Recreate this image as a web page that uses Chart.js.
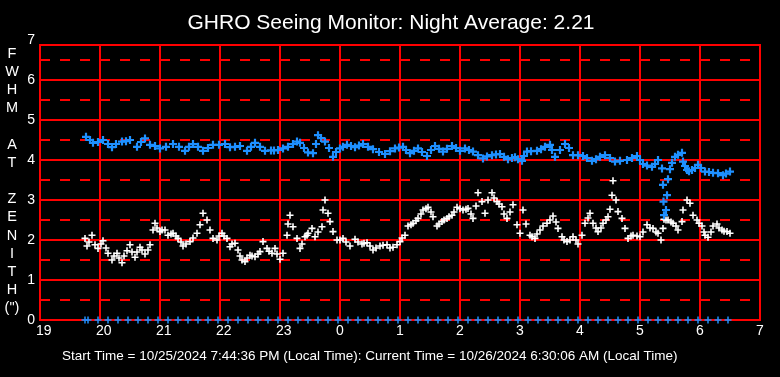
<!DOCTYPE html>
<html><head><meta charset="utf-8">
<script src="https://cdn.jsdelivr.net/npm/chart.js@4.4.1/dist/chart.umd.min.js"></script>
<style>html,body{margin:0;padding:0;background:#000;overflow:hidden}canvas{display:block}</style>
</head><body>
<canvas id="c" width="780" height="377"></canvas>
<script>
const titleText = 'GHRO Seeing Monitor: Night Average: 2.21';
const footerText = 'Start Time = 10/25/2024 7:44:36 PM (Local Time): Current Time = 10/26/2024 6:30:06 AM (Local Time)';
const sideLetters = ['F','W','H','M','','A','T','','Z','E','N','I','T','H','(")'];
const xTickLabels = ['19','20','21','22','23','0','1','2','3','4','5','6','7'];
const yTickLabels = ['0','1','2','3','4','5','6','7'];
const frameTopValue = 6.875;

// [minutes after 19:00, FWHM arcsec]
const fwhmPoints = [[46,4.58],[50,4.5],[53,4.43],[58,4.45],[63,4.5],[68,4.4],[72,4.32],[76,4.4],[82,4.46],[86,4.47],
[90,4.5],[97,4.33],[101,4.45],[105,4.54],[110,4.38],[115,4.35],[120,4.29],[126,4.33],[133,4.4],[139,4.33],
[145,4.23],[149,4.33],[153,4.4],[158,4.33],[163,4.23],[168,4.3],[173,4.38],[179,4.38],[185,4.4],[190,4.32],
[195,4.33],[200,4.35],[207,4.23],[211,4.33],[215,4.43],[220,4.33],[225,4.23],[231,4.24],[234,4.24],[238,4.25],
[243,4.29],[248,4.33],[253,4.4],[257,4.46],[260,4.43],[264,4.3],[268,4.19],[273,4.17],[276,4.4],[278,4.62],
[281,4.55],[285,4.46],[289,4.3],[293,4.08],[296,4.2],[300,4.29],[303,4.33],[307,4.38],[311,4.35],[315,4.32],
[319,4.36],[323,4.4],[328,4.33],[333,4.27],[339,4.2],[345,4.15],[350,4.22],[355,4.29],[359,4.31],[363,4.33],
[366,4.25],[370,4.17],[374,4.23],[378,4.29],[382,4.2],[387,4.1],[391,4.25],[395,4.35],[399,4.28],[403,4.21],
[407,4.28],[412,4.35],[416,4.3],[420,4.23],[425,4.29],[429,4.25],[433,4.21],[438,4.12],[443,4.04],[447,4.09],
[452,4.12],[456,4.14],[460,4.15],[464,4.08],[468,4.02],[472,4.05],[475,4.07],[478,4.02],[482,3.98],[484,4.1],
[487,4.21],[491,4.22],[497,4.23],[501,4.27],[505,4.33],[510,4.38],[512,4.25],[515,4.08],[520,4.25],[525,4.4],
[529,4.3],[533,4.12],[538,4.12],[543,4.1],[547,4.05],[552,3.98],[556,4.02],[560,4.08],[565,4.12],[570,4.05],
[575,3.96],[580,3.98],[587,4.0],[592,4.05],[597,4.1],[600,4.0],[603,3.9],[607,3.86],[612,3.83],[615,3.9],
[618,4.0],[622,3.79],[623,3.38],[623.5,2.96],[624,2.62],[626,2.75],[627,3.12],[628,3.52],[630,3.77],[632,3.93],
[635,4.08],[638,4.13],[642,4.18],[643,3.96],[645,3.85],[647,3.75],[649,3.72],[652,3.75],[655,3.8],[658,3.88],
[661,3.8],[665,3.71],[669,3.7],[673,3.68],[678,3.67],[683,3.62],[686,3.66],[690,3.71]];

// [minutes after 19:00, seeing arcsec]
const seeingPoints = [[45,2.04],[47,1.85],[49,1.95],[52,2.12],[55,1.88],[58,1.79],[61,1.9],[63,1.98],[66,1.8],[68,1.67],
[72,1.5],[74,1.6],[77,1.67],[79,1.55],[82,1.43],[84,1.6],[87,1.73],[90,1.88],[92,1.7],[95,1.57],
[97,1.7],[100,1.82],[102,1.75],[105,1.65],[108,1.75],[110,1.88],[113,2.25],[115,2.42],[117,2.3],[120,2.21],
[122,2.25],[125,2.25],[128,2.12],[131,2.15],[133,2.17],[136,2.1],[138,2.04],[141,1.95],[143,1.85],[146,1.9],
[150,1.96],[153,2.05],[157,2.17],[160,2.38],[163,2.67],[167,2.5],[170,2.25],[173,2.04],[177,2.0],[179,2.1],
[182,2.17],[184,2.1],[187,2.04],[190,1.83],[192,1.9],[195,1.92],[198,1.75],[200,1.6],[202,1.5],[205,1.46],
[207,1.55],[210,1.62],[212,1.6],[215,1.58],[218,1.65],[220,1.71],[223,1.96],[227,1.79],[229,1.72],[232,1.67],
[235,1.79],[237,1.65],[240,1.52],[243,1.67],[247,2.12],[248,2.4],[250,2.62],[253,2.33],[257,2.04],[260,1.79],
[262,1.9],[265,2.08],[267,2.12],[268,2.17],[272,2.29],[275,2.08],[278,2.2],[282,2.33],[283,2.75],[285,3.0],
[288,2.67],[290,2.46],[293,2.21],[297,2.0],[300,2.0],[303,2.04],[306,1.95],[310,1.85],[315,2.02],[318,1.95],
[322,1.9],[324,1.92],[327,1.93],[330,1.85],[333,1.75],[336,1.8],[340,1.85],[343,1.87],[347,1.88],[350,1.8],
[353,1.82],[357,1.88],[360,1.96],[362,2.05],[365,2.12],[368,2.35],[371,2.38],[373,2.42],[376,2.48],[378,2.54],
[381,2.65],[383,2.75],[386,2.78],[388,2.82],[391,2.7],[393,2.58],[397,2.35],[399,2.4],[402,2.46],[404,2.5],
[407,2.54],[409,2.58],[412,2.62],[414,2.7],[417,2.82],[420,2.78],[423,2.75],[426,2.77],[428,2.79],[431,2.65],
[433,2.54],[436,2.85],[438,3.18],[442,2.96],[445,2.67],[448,3.0],[452,3.18],[454,3.05],[457,2.96],[459,2.9],
[462,2.83],[464,2.65],[467,2.54],[470,2.7],[473,2.88],[477,2.38],[480,2.17],[483,2.75],[486,2.4],[490,2.12],
[492,2.08],[495,2.04],[497,2.15],[500,2.25],[503,2.35],[507,2.42],[510,2.5],[513,2.6],[516,2.45],[518,2.29],
[522,2.08],[524,2.0],[527,1.96],[530,2.0],[533,2.08],[536,2.0],[538,1.9],[542,2.12],[545,2.42],[548,2.55],
[550,2.67],[553,2.42],[556,2.3],[558,2.21],[561,2.3],[563,2.42],[566,2.5],[568,2.58],[570,2.77],[572,3.12],
[573,3.48],[576,3.0],[578,2.71],[582,2.54],[585,2.29],[588,2.04],[591,2.1],[593,2.12],[597,2.1],[600,2.08],
[603,2.2],[607,2.38],[610,2.3],[613,2.29],[616,2.2],[618,2.17],[621,2.0],[623,2.29],[624,2.52],[626,2.5],
[628,2.5],[631,2.45],[633,2.42],[636,2.35],[638,2.25],[642,2.46],[643,2.75],[647,3.0],[650,2.92],[653,2.62],
[657,2.5],[659,2.42],[662,2.35],[664,2.2],[665,2.12],[668,2.07],[671,2.2],[673,2.35],[677,2.4],[679,2.3],
[682,2.25],[684,2.22],[687,2.21],[690,2.17]];

// bottom markers [minutes after 19:00, value]
const zeroPoints = [[45,0],[48,0],[58,0],[68,0],[78,0],[88,0],[98,0],[108,0],[118,0],[128,0],
[138,0],[148,0],[158,0],[168,0],[178,0],[188,0],[198,0],[208,0],[218,0],[228,0],
[238,0],[248,0],[258,0],[268,0],[278,0],[288,0],[298,0],[308,0],[318,0],[328,0],
[338,0],[348,0],[358,0],[368,0],[378,0],[388,0],[398,0],[408,0],[418,0],[428,0],
[438,0],[448,0],[458,0],[468,0],[478,0],[488,0],[498,0],[508,0],[518,0],[528,0],
[538,0],[548,0],[558,0],[568,0],[578,0],[588,0],[598,0],[608,0],[618,0],[628,0],
[638,0],[648,0],[658,0],[668,0],[678,0],[688,0]];

const toXY = arr => arr.map(p => ({x: p[0], y: p[1]}));
const FONT = '"Liberation Sans", Arial, sans-serif';
const RED = '#ff0000';
const BLUE = '#1e90ff';

const framePlugin = {
  id: 'frame',
  beforeDraw(chart) {
    const {ctx, width, height} = chart;
    ctx.save(); ctx.fillStyle = '#000'; ctx.fillRect(0, 0, width, height); ctx.restore();
  },
  beforeDatasetsDraw(chart) {
    const {ctx, chartArea: a, scales: {x, y}} = chart;
    const top = Math.round(y.getPixelForValue(frameTopValue));
    ctx.save();
    ctx.strokeStyle = RED; ctx.lineWidth = 2;
    y.ticks.forEach(t => {
      if (t.value <= 0 || t.value >= frameTopValue) return;
      const py = Math.round(y.getPixelForValue(t.value));
      ctx.setLineDash(t.value % 1 ? [10, 10] : []);
      ctx.beginPath(); ctx.moveTo(a.left, py); ctx.lineTo(a.right, py); ctx.stroke();
    });
    ctx.setLineDash([]);
    x.ticks.forEach(t => {
      const px = Math.round(x.getPixelForValue(t.value));
      ctx.beginPath(); ctx.moveTo(px, top); ctx.lineTo(px, a.bottom); ctx.stroke();
    });
    ctx.strokeRect(a.left, top, a.right - a.left, a.bottom - top);
    ctx.restore();
  },
  afterDraw(chart) {
    const {ctx} = chart;
    ctx.save();
    ctx.fillStyle = '#fff';
    ctx.textBaseline = 'alphabetic';
    ctx.textAlign = 'center';
    ctx.font = '21px ' + FONT;
    ctx.fillText(titleText, 391, 29);
    ctx.font = '14.5px ' + FONT;
    sideLetters.forEach((s, i) => { if (s) ctx.fillText(s, 12, 57.5 + i * 18.2); });
    ctx.textAlign = 'left';
    ctx.font = '13.5px ' + FONT;
    ctx.fillText(footerText, 62, 360);
    ctx.restore();
  }
};

new Chart(document.getElementById('c'), {
  type: 'scatter',
  data: {
    datasets: [
      {label: 'FWHM', data: toXY(fwhmPoints), pointStyle: 'cross', radius: 4, borderColor: BLUE, backgroundColor: BLUE, borderWidth: 2.2, clip: false},
      {label: 'Seeing', data: toXY(seeingPoints), pointStyle: 'cross', radius: 3.5, borderColor: '#fff', backgroundColor: '#fff', borderWidth: 1.6, clip: false},
      {label: 'Zero', data: toXY(zeroPoints), pointStyle: 'cross', radius: 3.5, borderColor: BLUE, backgroundColor: BLUE, borderWidth: 1.5, clip: false}
    ]
  },
  options: {
    responsive: false, animation: false, devicePixelRatio: 1, events: [],
    layout: {padding: {top: 40, left: 0, right: 20, bottom: 0}},
    plugins: {legend: {display: false}, tooltip: {enabled: false}, title: {display: false}},
    scales: {
      x: {
        type: 'linear', min: 0, max: 720,
        grid: {display: false, drawTicks: false}, border: {display: false},
        afterFit: s => { s.height = 57; },
        ticks: {stepSize: 60, padding: 3, color: '#fff', font: {size: 14, family: FONT},
          maxRotation: 0, autoSkip: false, align: 'start', labelOffset: -4,
          callback: (v, i) => xTickLabels[i]}
      },
      y: {
        min: 0, max: 7,
        grid: {display: false, drawTicks: false}, border: {display: false},
        afterFit: s => { s.width = 40; },
        ticks: {stepSize: 0.5, padding: 5, color: '#fff', font: {size: 14, family: FONT}, autoSkip: false,
          callback: v => Number.isInteger(v) ? yTickLabels[v] : ''}
      }
    }
  },
  plugins: [framePlugin]
});
</script>
</body></html>
